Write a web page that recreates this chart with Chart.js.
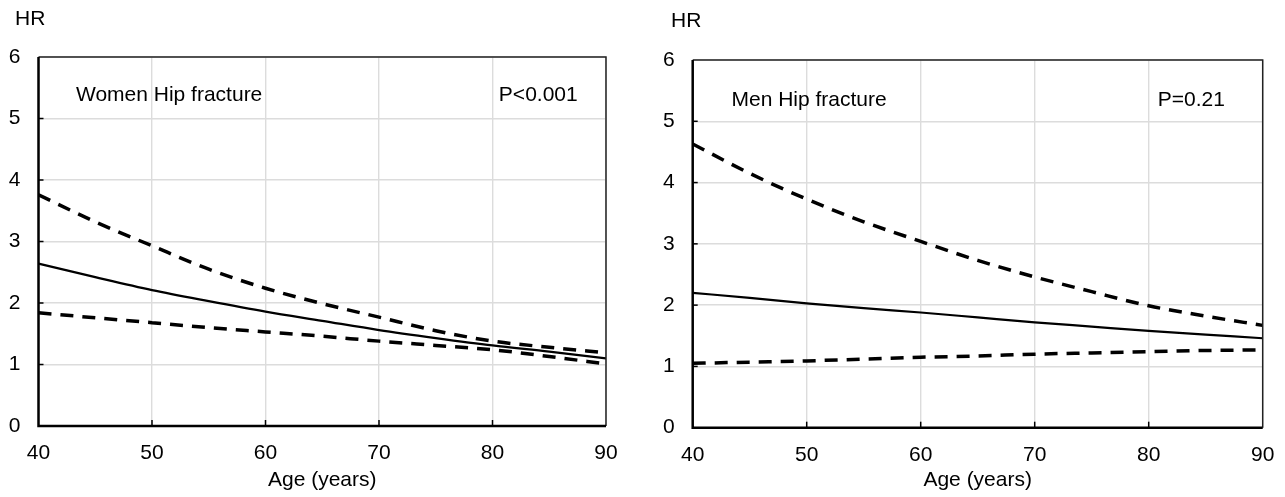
<!DOCTYPE html>
<html>
<head>
<meta charset="utf-8">
<script src="https://cdn.jsdelivr.net/npm/chart.js@4.4.1/dist/chart.umd.min.js"></script>
<style>
  body { margin: 0; background: #fff; }
  .panel { position: absolute; top: 0; }
</style>
</head>
<body>
<div class="panel" style="left:0"><canvas id="women" width="640" height="497"></canvas></div>
<div class="panel" style="left:645px"><canvas id="men" width="640" height="497"></canvas></div>
<script>
const ages = [40, 45, 50, 55, 60, 65, 70, 75, 80, 85, 90];

const womenHR    = [2.64, 2.42, 2.21, 2.03, 1.86, 1.71, 1.56, 1.43, 1.31, 1.21, 1.10];
const womenUpper = [3.76, 3.32, 2.93, 2.55, 2.24, 1.99, 1.77, 1.55, 1.38, 1.28, 1.19];
const womenLower = [1.84, 1.76, 1.68, 1.60, 1.53, 1.46, 1.38, 1.31, 1.24, 1.13, 1.01];

const menHR    = [2.20, 2.12, 2.03, 1.95, 1.88, 1.80, 1.72, 1.65, 1.58, 1.52, 1.46];
const menUpper = [4.63, 4.15, 3.73, 3.36, 3.04, 2.73, 2.46, 2.22, 1.99, 1.82, 1.67];
const menLower = [1.05, 1.07, 1.09, 1.12, 1.15, 1.17, 1.20, 1.22, 1.24, 1.26, 1.27];

const FONT = "'Liberation Sans', Arial, sans-serif";

const toPoints = (vals) => ages.map((a, i) => ({ x: a, y: vals[i] }));

// frame, inner tick marks and text labels
const decor = {
  id: "decor",
  beforeDatasetsDraw(chart) {
    const { ctx, chartArea: a, scales } = chart;
    ctx.save();
    ctx.strokeStyle = "#000";
    ctx.lineWidth = 1.5;
    scales.x.ticks.forEach((t) => {
      if (t.value <= 40 || t.value >= 90) return;
      const px = scales.x.getPixelForValue(t.value);
      ctx.beginPath();
      ctx.moveTo(px, a.bottom);
      ctx.lineTo(px, a.bottom - 6);
      ctx.stroke();
    });
    scales.y.ticks.forEach((t) => {
      if (t.value <= 0 || t.value >= 6) return;
      const py = scales.y.getPixelForValue(t.value);
      ctx.beginPath();
      ctx.moveTo(a.left, py);
      ctx.lineTo(a.left + 5, py);
      ctx.stroke();
    });
    ctx.restore();
  },
  afterDraw(chart) {
    const { ctx, chartArea: a, scales } = chart;
    const o = chart.options.plugins.decor;
    ctx.save();
    ctx.strokeStyle = "#222";
    ctx.lineWidth = 1.5;
    ctx.beginPath();
    ctx.moveTo(a.left, a.top);
    ctx.lineTo(a.right, a.top);
    ctx.lineTo(a.right, a.bottom);
    ctx.stroke();
    ctx.strokeStyle = "#000";
    ctx.lineWidth = 2.5;
    ctx.beginPath();
    ctx.moveTo(a.left, a.top);
    ctx.lineTo(a.left, a.bottom);
    ctx.lineTo(a.right, a.bottom);
    ctx.stroke();

    ctx.fillStyle = "#000";
    ctx.font = `21px ${FONT}`;
    ctx.textAlign = "left";
    ctx.textBaseline = "middle";
    ctx.fillText("HR", o.hr[0], o.hr[1]);
    o.notes.forEach((n) => {
      ctx.fillText(n.text, scales.x.getPixelForValue(n.x), scales.y.getPixelForValue(n.y));
    });
    ctx.restore();
  },
};

function makeChart(id, hr, upper, lower, box, notes) {
  const dashed = { borderDash: [13, 9], borderWidth: 3.5 };
  return new Chart(document.getElementById(id), {
    type: "line",
    data: {
      datasets: [
        { data: toPoints(upper), ...dashed },
        { data: toPoints(hr), borderWidth: 2.2 },
        { data: toPoints(lower), ...dashed },
      ],
    },
    options: {
      responsive: false,
      animation: false,
      borderColor: "#000",
      elements: {
        point: { radius: 0 },
        line: { borderColor: "#000", tension: 0.4, cubicInterpolationMode: "monotone", borderCapStyle: "butt" },
      },
      layout: { padding: { top: box.top, left: 0, right: box.right, bottom: 0 } },
      scales: {
        x: {
          type: "linear",
          min: 40,
          max: 90,
          border: { display: false },
          grid: { color: "#dcdcdc", lineWidth: 1.4, drawTicks: false },
          ticks: { stepSize: 10, padding: 15, color: "#000", font: { family: FONT, size: 21 } },
          title: {
            display: true,
            text: "Age (years)",
            color: "#000",
            font: { family: FONT, size: 21 },
            padding: { top: 0, bottom: 4 },
          },
          afterFit: (s) => {
            s.height = box.xh;
            s.paddingLeft = 0;
            s.paddingRight = 0;
          },
        },
        y: {
          min: 0,
          max: 6,
          border: { display: false },
          grid: { color: "#dcdcdc", lineWidth: 1.4, drawTicks: false },
          ticks: { stepSize: 1, padding: 18, color: "#000", font: { family: FONT, size: 21 } },
          afterFit: (s) => { s.width = box.yw; },
        },
      },
      plugins: {
        legend: { display: false },
        tooltip: { enabled: false },
        decor: { hr: box.hr, notes: notes },
      },
    },
    plugins: [decor],
  });
}

makeChart("women", womenHR, womenUpper, womenLower,
  { top: 57, right: 34, xh: 71, yw: 38.5, hr: [15, 19] },
  [
    { text: "Women Hip fracture", x: 43.3, y: 5.38 },
    { text: "P<0.001", x: 80.56, y: 5.38 },
  ]);

makeChart("men", menHR, menUpper, menLower,
  { top: 60, right: 22.3, xh: 69.3, yw: 47.7, hr: [26, 21] },
  [
    { text: "Men Hip fracture", x: 43.4, y: 5.35 },
    { text: "P=0.21", x: 80.8, y: 5.35 },
  ]);
</script>
</body>
</html>
